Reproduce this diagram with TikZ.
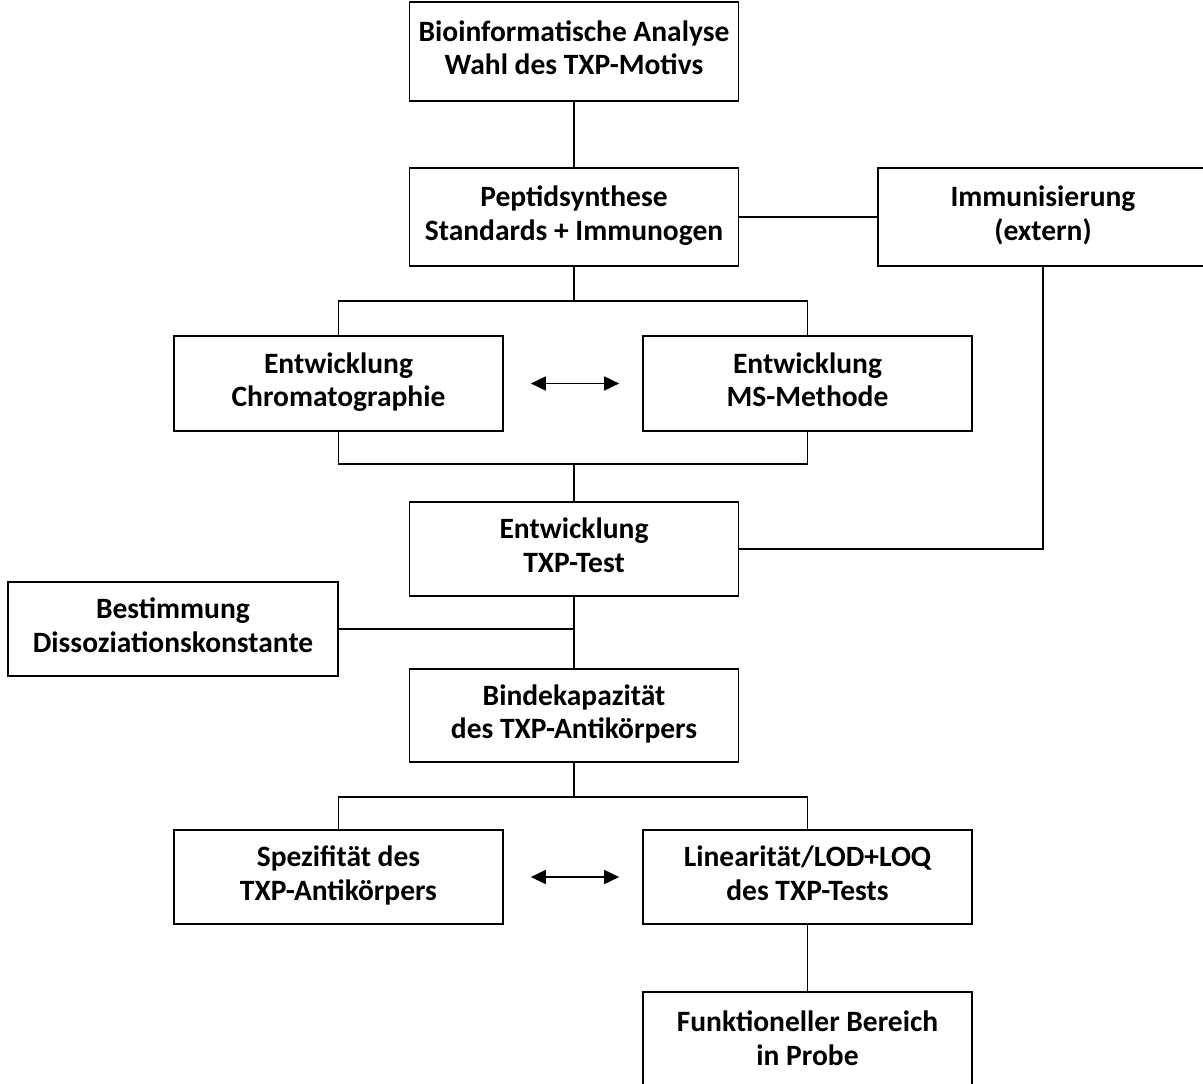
\documentclass[tikz,border=0pt]{standalone}
\usepackage{fontspec}
\setmainfont{Carlito}
\usetikzlibrary{arrows.meta}
\tikzset{
	box/.style={draw=black,line width=1pt,minimum width=6.58cm,minimum height=1.9cm,inner sep=0pt,font=\fontsize{16.8}{19}\selectfont\bfseries\setlength{\tabcolsep}{0pt}},
	link/.style={draw=black,line width=1pt},
	both/.style={link,{Triangle[length=0.3cm,width=0.28cm]}-{Triangle[length=0.3cm,width=0.28cm]}}
}
\begin{document}
\begin{tikzpicture}[x=0.02cm,y=-0.02cm]
	        \useasboundingbox (0,0) rectangle (1203,1084);
	        
			\node[box,minimum height=1.98cm] (bio) at (574,51.5){\begin{tabular}{c}Bioinformatische Analyse\\Wahl des TXP-Motivs\end{tabular}};
			\node[box,minimum height=1.96cm] (pep) at (574,217){\begin{tabular}{c}Peptidsynthese\\Standards + Immunogen\end{tabular}};
			\node[box,minimum width=6.6cm,minimum height=1.96cm] (imm) at (1043,217){\begin{tabular}{c}Immunisierung\\(extern)\end{tabular}};
			
			\node[box] (chrom) at (338.5,383.5){\begin{tabular}{c}Entwicklung\\Chromatographie\end{tabular}};
			\node[box] (ms) at (807.5,383.5){\begin{tabular}{c}Entwicklung\\MS-Methode\end{tabular}};
			\node[box,minimum height=1.88cm] (txp) at (574,549){\begin{tabular}{c}Entwicklung\\TXP-Test\end{tabular}};
			\node[box,minimum width=6.6cm,minimum height=1.88cm] (diss) at (173,629){\begin{tabular}{c}Bestimmung\\Dissoziationskonstante\end{tabular}};
			\node[box,minimum height=1.86cm] (bind) at (574,715.5){\begin{tabular}{c}Bindekapazit\"at\\des TXP-Antik\"orpers\end{tabular}};
			
			\node[box,minimum height=1.88cm] (spez) at (338.5,877){\begin{tabular}{c}Spezifit\"at des\\TXP-Antik\"orpers\end{tabular}};
			\node[box,minimum height=1.88cm] (lin) at (807.5,877){\begin{tabular}{c}Linearit\"at/LOD+LOQ\\des TXP-Tests\end{tabular}};
			\node[box,minimum height=2cm] (funk) at (807.5,1042){\begin{tabular}{c}Funktioneller Bereich\\in Probe\end{tabular}};
			
			\coordinate (split1) at (574,301);
			\coordinate (join1) at (574,464);
			\coordinate (split2) at (574,797);
			
			\draw[link] (bio) -- (pep);
			\draw[link] (pep) -- (imm);
			\draw[link] (pep.south) -- (split1);
			\draw[link] (chrom.north) |- (split1) -| (ms.north);
			\draw[link] (chrom.south) |- (join1) -| (ms.south);
			\draw[link] (join1) -- (txp.north);
			\draw[link] (imm.south) |- (txp.east);
			\draw[link] (txp) -- (bind);
			\draw[link] (diss.east) -- (diss.east -| txp.south);
			\draw[link] (bind.south) -- (split2);
			\draw[link] (spez.north) |- (split2) -| (lin.north);
			\draw[link] (lin) -- (funk);
			
			\draw[both] ([xshift=0.54cm]chrom.east) -- ([xshift=-0.46cm]ms.west);
			\draw[both] ([xshift=0.54cm]spez.east) -- ([xshift=-0.46cm]lin.west);
		\end{tikzpicture}
\end{document}
